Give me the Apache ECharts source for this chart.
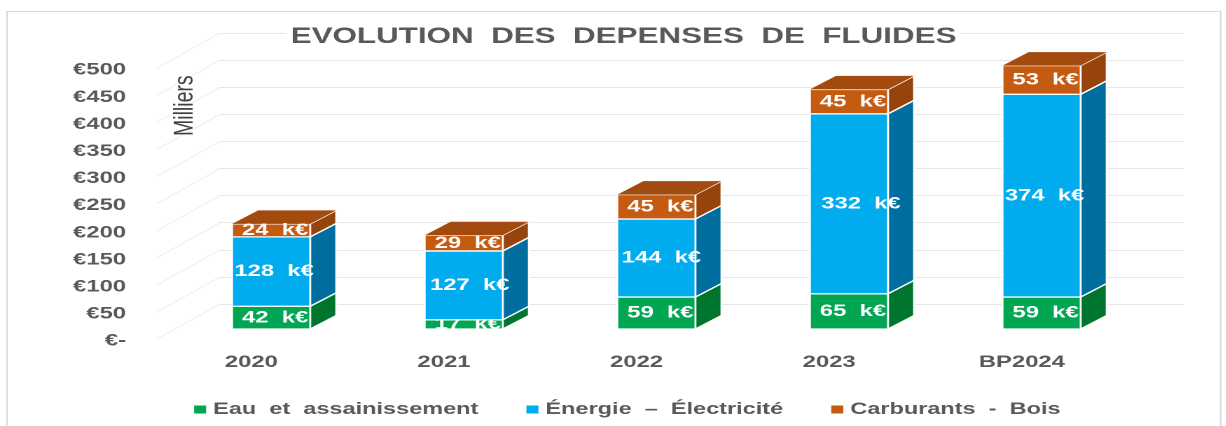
<!DOCTYPE html>
<html><head><meta charset="utf-8">
<style>html,body{margin:0;padding:0;background:#fff;overflow:hidden;width:1226px;height:426px}
#c{transform-origin:0 0;position:absolute;left:0;top:0}</style>
<script src="https://cdn.jsdelivr.net/npm/echarts@6/dist/echarts.min.js"></script>
</head><body><div id="c"></div>
<script>
const categories = ['2020','2021','2022','2023','BP2024'];
const eau = [42,17,59,65,59];
const energie = [128,127,144,332,374];
const carburants = [24,29,45,45,53];
const yTicks = [0,50,100,150,200,250,300,350,400,450,500];
const blueLabelShift = [3,6,5,12,3];

const SX = 1.4;                     // the whole picture is stretched horizontally
const W = 1226/SX, H = 426;
const el = document.getElementById('c');
el.style.width = W+'px'; el.style.height = H+'px';
el.style.transform = 'scaleX('+SX+')';
const chart = echarts.init(el, null, {width:W, height:H, devicePixelRatio:2});
const px = v => v/SX;
const FONT = '"Liberation Sans", Arial, sans-serif';
const GREY = '#595959';
const dX = px(26), dY = 13.5, barW = px(78);

function segmentSeries(name, values, bottoms, colors, hasTop, shifts){
  return {
    name, type:'custom', xAxisIndex:1, yAxisIndex:1, z:5,
    itemStyle:{color:colors.front},
    encode:{x:0,y:[1,2]},
    data: values.map((v,i)=>[i,bottoms[i],bottoms[i]+v,v]),
    renderItem(params, api){
      const i = api.value(0), s = api.value(1), e = api.value(2), v = api.value(3);
      const b = api.coord([i,s]), t = api.coord([i,e]);
      const xl = b[0]-barW/2, xr = b[0]+barW/2, yb = b[1], yt = t[1];
      const sh = shifts ? shifts[i] : 4;
      const stroke = {stroke:'#fff',lineWidth:1.3};
      const kids = [
        {type:'polygon',shape:{points:[[xr,yb],[xr+dX,yb-dY],[xr+dX,yt-dY],[xr,yt]]},style:{fill:colors.side,...stroke}},
        {type:'rect',shape:{x:xl,y:yt,width:barW,height:yb-yt},style:{fill:colors.front,...stroke}}
      ];
      if(hasTop) kids.push({type:'polygon',shape:{points:[[xl,yt],[xl+dX,yt-dY],[xr+dX,yt-dY],[xr,yt]]},style:{fill:colors.top}});
      kids.push({type:'text',x:b[0]+px(sh),y:(yb+yt)/2,style:{text:v+'  k€',fill:'#fff',font:'bold 17px '+FONT,align:'center',verticalAlign:'middle'}});
      return {type:'group',children:kids};
    }
  };
}
const b1 = eau.map(()=>0);
const b2 = eau.slice();
const b3 = eau.map((v,i)=>v+energie[i]);

const option = {
  backgroundColor:'#fff',
  animation:false,
  title:{text:'EVOLUTION  DES  DEPENSES  DE  FLUIDES',left:px(619),top:26,textAlign:'center',
    backgroundColor:'#fff',padding:[0,3],
    textStyle:{fontFamily:FONT,fontWeight:'bold',fontSize:22.4,color:GREY}},
  legend:{data:['Eau  et  assainissement','Énergie  –  Électricité','Carburants  -  Bois'],
    left:px(187),top:396,itemWidth:px(12),itemHeight:8,itemGap:px(48),icon:'rect',
    textStyle:{fontFamily:FONT,fontWeight:'bold',fontSize:16.8,color:GREY}},
  grid:[
    {left:px(218),width:px(965),top:33,height:271},
    {left:px(174.75),width:px(962.5),top:58,height:271},
    {left:px(155),width:px(962.5),top:70,height:271}
  ],
  xAxis:[
    {gridIndex:0,type:'category',data:categories,show:false},
    {gridIndex:1,type:'category',data:categories,show:false},
    {gridIndex:2,type:'category',data:categories,axisLine:{show:false},axisTick:{show:false},
     axisLabel:{margin:13,fontFamily:FONT,fontWeight:'bold',fontSize:17,color:GREY}}
  ],
  yAxis:[
    {gridIndex:0,type:'value',min:0,max:500,interval:50,axisLine:{show:false},axisTick:{show:false},axisLabel:{show:false},
     splitLine:{show:true,lineStyle:{color:'#e6e6e6',width:1}}},
    {gridIndex:1,type:'value',min:0,max:500,interval:50,show:false,splitLine:{show:false}},
    {gridIndex:2,type:'value',min:0,max:500,interval:50,axisLine:{show:false},axisTick:{show:false},splitLine:{show:false},
     axisLabel:{margin:px(29),fontFamily:FONT,fontWeight:'bold',fontSize:17,color:GREY,
       formatter:v=>v===0?'€-':'€'+v}}
  ],
  graphic:[
    {type:'rect',z:-1,shape:{x:px(7),y:11.5,width:px(1213),height:440},style:{fill:'none',stroke:'#d8d8d8',lineWidth:1}},
    {type:'text',z:3,rotation:Math.PI/2,x:px(171),y:136,
     style:{text:'Milliers',font:'19.5px '+FONT,fill:'#404040',textAlign:'left',textVerticalAlign:'top'}}
  ],
  series:[
    {type:'custom',name:'grille',xAxisIndex:2,yAxisIndex:2,z:1,silent:true,
     encode:{y:0},data:yTicks.map(v=>[v]),
     renderItem(params,api){
       const p = api.coord([0,api.value(0)]);
       const x0 = params.coordSys.x;
       return {type:'line',shape:{x1:x0+px(2),y1:p[1]-2,x2:x0+px(65),y2:p[1]-37},style:{stroke:'#f0f0f0',lineWidth:1}};
     }},
    segmentSeries('Eau  et  assainissement',eau,b1,{front:'#00A651',side:'#00752F'},false),
    segmentSeries('Énergie  –  Électricité',energie,b2,{front:'#00ABEE',side:'#006D9F'},false,blueLabelShift),
    segmentSeries('Carburants  -  Bois',carburants,b3,{front:'#C55A11',side:'#96440C',top:'#A34A0E'},true)
  ]
};
chart.setOption(option);
</script></body></html>
